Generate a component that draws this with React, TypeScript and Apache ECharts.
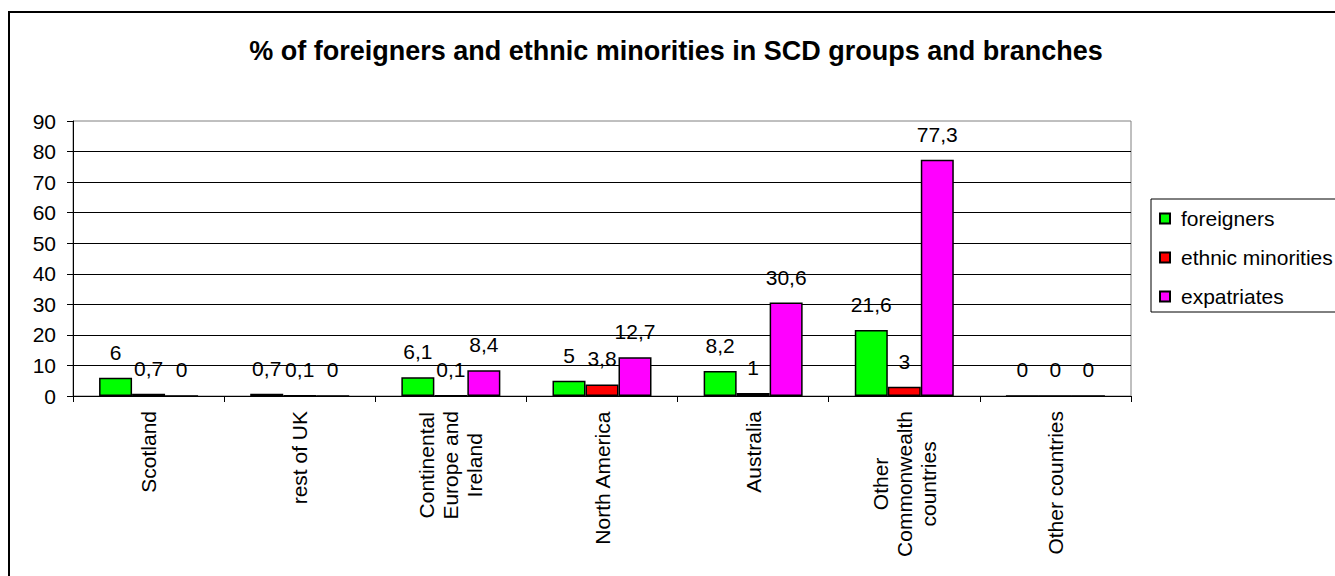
import React, { useEffect, useRef } from "react";
import * as echarts from "echarts";

const categories = [
  "Scotland",
  "rest of UK",
  "Continental\nEurope and\nIreland",
  "North America",
  "Australia",
  "Other\nCommonwealth\ncountries",
  "Other countries",
];
const foreigners = [6, 0.7, 6.1, 5, 8.2, 21.6, 0];
const ethnicMinorities = [0.7, 0.1, 0.1, 3.8, 1, 3, 0];
const expatriates = [0, 0, 8.4, 12.7, 30.6, 77.3, 0];
const seriesNames = ["foreigners", "ethnic minorities", "expatriates"];
const seriesColors = ["#00FF00", "#FF0000", "#FF00FF"];
const titleText = "% of foreigners and ethnic minorities in SCD groups and branches";

const FONT = '"Liberation Sans", Arial, sans-serif';

export default function App() {
  const ref = useRef<HTMLDivElement>(null);
  useEffect(() => {
    if (!ref.current) return;
    const chart = echarts.init(ref.current, null, { renderer: "svg" });
    const fmt = (p: any) => String(p.value).replace(".", ",");
    const dataSets = [foreigners, ethnicMinorities, expatriates];
    chart.setOption({
      animation: false,
      backgroundColor: "#fff",
      textStyle: { fontFamily: FONT },
      graphic: [
        {
          type: "rect",
          shape: { x: 9, y: 12, width: 1400, height: 700 },
          style: { fill: "none", stroke: "#000", lineWidth: 2 },
          silent: true,
          z: 100,
        },
        {
          type: "text",
          x: 676,
          y: 51,
          style: {
            text: titleText,
            font: `bold 27px ${FONT}`,
            fill: "#000",
            align: "center",
            verticalAlign: "middle",
          },
        },
      ],
      grid: {
        left: 73,
        right: 1335 - 1131,
        top: 121,
        bottom: 576 - 396,
        show: true,
        borderColor: "#808080",
        borderWidth: 1,
        backgroundColor: "transparent",
      },
      legend: {
        orient: "vertical",
        left: 1151,
        top: 199,
        itemWidth: 10,
        itemHeight: 10,
        itemGap: 18,
        padding: [9, 30, 5, 8],
        borderColor: "#000",
        borderWidth: 1,
        icon: "rect",
        data: seriesNames,
        textStyle: {
          fontSize: 21,
          color: "#000",
          fontFamily: FONT,
          padding: [0, 0, 0, 6],
        },
      },
      xAxis: {
        type: "category",
        data: categories,
        axisLine: { show: true, lineStyle: { color: "#000", width: 1 } },
        axisTick: { show: true, length: 6, lineStyle: { color: "#000" } },
        splitLine: { show: false },
        axisLabel: {
          interval: 0,
          rotate: 90,
          margin: 15,
          color: "#000",
          fontSize: 21,
          fontFamily: FONT,
          formatter: (v: string) =>
            v
              .split("\n")
              .map((l) => `{c|${l}}`)
              .join("\n"),
          rich: {
            c: {
              align: "center",
              fontSize: 21,
              lineHeight: 24,
              fontFamily: FONT,
              color: "#000",
            },
          },
        },
      },
      yAxis: {
        type: "value",
        min: 0,
        max: 90,
        interval: 10,
        axisLine: { show: true, lineStyle: { color: "#000", width: 1 } },
        axisTick: { show: true, length: 6, lineStyle: { color: "#000" } },
        axisLabel: { color: "#000", fontSize: 21, fontFamily: FONT, margin: 17 },
        splitLine: {
          show: true,
          showMinLine: false,
          showMaxLine: false,
          lineStyle: { color: "#000", width: 1 },
        },
      },
      series: seriesNames.map((name, i) => ({
        name,
        type: "bar",
        data: dataSets[i],
        barWidth: 33,
        barGap: "0%",
        itemStyle: {
          color: seriesColors[i],
          borderColor: "#000",
          borderWidth: 1.5,
        },
        label: {
          show: true,
          position: "top",
          distance: 15,
          color: "#000",
          fontSize: 21,
          fontFamily: FONT,
          formatter: fmt,
        },
      })),
    });
    return () => chart.dispose();
  }, []);
  return (
    <div
      ref={ref}
      style={{ position: "absolute", left: 0, top: 0, width: 1335, height: 576 }}
    />
  );
}
